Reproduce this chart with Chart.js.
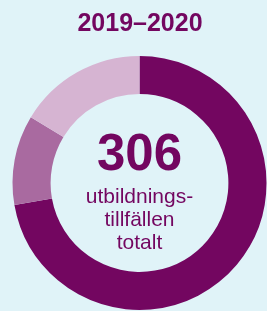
<!DOCTYPE html>
<html>
<head>
<meta charset="utf-8">
<script src="https://cdn.jsdelivr.net/npm/chart.js@4/dist/chart.umd.min.js"></script>
<style>
  html, body { margin: 0; padding: 0; background: #e0f3f8; }
  #wrap { width: 267px; height: 311px; position: relative; }
</style>
</head>
<body>
<div id="wrap"><canvas id="donut"></canvas></div>
<script>
const title = '2019–2020';
const categories = ['Grupp A', 'Grupp B', 'Grupp C'];
const values = [221, 35, 50];
const colors = ['#730660', '#a96aa0', '#d6b4d2'];
const total = '306';
const centerLines = ['utbildnings-', 'tillfällen', 'totalt'];

const textPlugin = {
  id: 'textPlugin',
  afterDraw(chart) {
    const ctx = chart.ctx;
    const meta = chart.getDatasetMeta(0).data[0];
    const cx = meta.x, cy = meta.y;
    ctx.save();
    ctx.fillStyle = '#730660';
    ctx.textAlign = 'center';
    ctx.textBaseline = 'alphabetic';
    ctx.font = 'bold 25px "Liberation Sans", Arial, sans-serif';
    ctx.fillText(title, 140, 31);
    ctx.font = 'bold 51px "Liberation Sans", Arial, sans-serif';
    ctx.fillText(total, cx, cy - 13);
    ctx.font = '21px "Liberation Sans", Arial, sans-serif';
    centerLines.forEach((t, i) => {
      ctx.fillText(t, cx, cy + 20 + i * 23);
    });
    ctx.restore();
  }
};

new Chart(document.getElementById('donut'), {
  type: 'doughnut',
  data: {
    labels: categories,
    datasets: [{
      data: values,
      backgroundColor: colors,
      borderWidth: 0,
    }]
  },
  options: {
    responsive: true,
    maintainAspectRatio: false,
    animation: false,
    cutout: '70%',
    layout: { padding: { top: 56, left: 12, right: 0, bottom: 1 } },
    plugins: {
      legend: { display: false },
      tooltip: { enabled: false }
    },
    events: []
  },
  plugins: [textPlugin]
});
</script>
</body>
</html>
